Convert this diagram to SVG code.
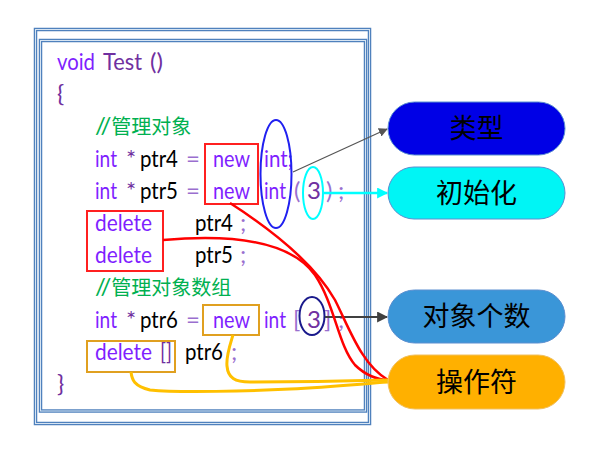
<svg xmlns="http://www.w3.org/2000/svg" width="616" height="450" viewBox="0 0 616 450">
<defs>
<style>
.c{font-family:Lato,"Noto Sans","Noto Sans CJK SC",sans-serif;font-size:24px}
.k{fill:#7F1FFF}
.p{fill:#7030A0}
.l{fill:#9A6FCF}
.b{fill:#000}
.g{fill:#00B050;font-family:Lato,"Noto Sans CJK SC",sans-serif;font-size:24px}
.cj{font-family:"Noto Sans CJK SC",sans-serif;font-size:20px}
.nt{font-family:"Noto Sans CJK SC",sans-serif;font-size:27px;fill:#000;text-anchor:middle}
.fr{fill:none;stroke:#4F81BD;stroke-width:3.5}
.fr2{fill:none;stroke:#D6E4F2;stroke-width:1}
.rb{fill:none;stroke:#FF2020;stroke-width:2}
.ob{fill:none;stroke:#E0A020;stroke-width:2}
.rc{fill:none;stroke:#FF0000;stroke-width:2.5}
.oc{fill:none;stroke:#FFC000;stroke-width:3}
</style>
<marker id="ag" viewBox="0 0 10 10" refX="9" refY="5" markerWidth="9" markerHeight="9" markerUnits="userSpaceOnUse" orient="auto"><path d="M0,0 L10,5 L0,10 z" fill="#555"/></marker>
<marker id="ac" viewBox="0 0 10 10" refX="9" refY="5" markerWidth="11" markerHeight="11" markerUnits="userSpaceOnUse" orient="auto"><path d="M0,0 L10,5 L0,10 z" fill="#00FFFF"/></marker>
<marker id="ad" viewBox="0 0 10 10" refX="9" refY="5" markerWidth="11" markerHeight="11" markerUnits="userSpaceOnUse" orient="auto"><path d="M0,0 L10,5 L0,10 z" fill="#404040"/></marker>
</defs>
<rect width="616" height="450" fill="#fff"/>
<g id="frame">
<rect class="fr" x="35.5" y="29.5" width="334" height="394"/>
<rect class="fr2" x="35.5" y="29.5" width="334" height="394"/>
<rect class="fr" x="40.5" y="40.5" width="325" height="370.5"/>
<rect class="fr2" x="40.5" y="40.5" width="325" height="370.5"/>
</g>
<g id="code" class="c">
<text y="70"><tspan class="k" x="57" textLength="38" lengthAdjust="spacingAndGlyphs">void</tspan><tspan class="p" x="103" textLength="39" lengthAdjust="spacingAndGlyphs">Test</tspan><tspan class="p" x="150" textLength="13" lengthAdjust="spacingAndGlyphs">()</tspan></text>
<text y="102" class="p" x="57">{</text>
<text y="134" class="g" x="95">//<tspan class="cj">管理对象</tspan></text>
<text y="167"><tspan class="k" x="95" textLength="22" lengthAdjust="spacingAndGlyphs">int</tspan><tspan class="p" x="126">*</tspan><tspan class="b" x="140" textLength="38" lengthAdjust="spacingAndGlyphs">ptr4</tspan><tspan class="l" x="186">=</tspan><tspan class="k" x="213" textLength="37" lengthAdjust="spacingAndGlyphs">new</tspan><tspan class="k" x="264" textLength="29" lengthAdjust="spacingAndGlyphs">int;</tspan></text>
<text y="199"><tspan class="k" x="95" textLength="22" lengthAdjust="spacingAndGlyphs">int</tspan><tspan class="p" x="126">*</tspan><tspan class="b" x="140" textLength="38" lengthAdjust="spacingAndGlyphs">ptr5</tspan><tspan class="l" x="186">=</tspan><tspan class="k" x="213" textLength="37" lengthAdjust="spacingAndGlyphs">new</tspan><tspan class="k" x="264" textLength="22" lengthAdjust="spacingAndGlyphs">int</tspan><tspan class="l" x="294">(</tspan><tspan class="p" x="307">3</tspan><tspan class="l" x="326">)</tspan><tspan class="l" x="338">;</tspan></text>
<text y="231"><tspan class="k" x="95" textLength="57" lengthAdjust="spacingAndGlyphs">delete</tspan><tspan class="b" x="195" textLength="38" lengthAdjust="spacingAndGlyphs">ptr4</tspan><tspan class="l" x="240">;</tspan></text>
<text y="263"><tspan class="k" x="95" textLength="57" lengthAdjust="spacingAndGlyphs">delete</tspan><tspan class="b" x="195" textLength="38" lengthAdjust="spacingAndGlyphs">ptr5</tspan><tspan class="l" x="240">;</tspan></text>
<text y="295" class="g" x="95">//<tspan class="cj">管理对象数组</tspan></text>
<text y="328"><tspan class="k" x="95" textLength="22" lengthAdjust="spacingAndGlyphs">int</tspan><tspan class="p" x="126">*</tspan><tspan class="b" x="140" textLength="38" lengthAdjust="spacingAndGlyphs">ptr6</tspan><tspan class="l" x="186">=</tspan><tspan class="k" x="213" textLength="37" lengthAdjust="spacingAndGlyphs">new</tspan><tspan class="k" x="264" textLength="22" lengthAdjust="spacingAndGlyphs">int</tspan><tspan class="l" x="293">[</tspan><tspan class="p" x="307">3</tspan><tspan class="l" x="324">]</tspan><tspan class="l" x="338">;</tspan></text>
<text y="360"><tspan class="k" x="95" textLength="57" lengthAdjust="spacingAndGlyphs">delete</tspan><tspan class="p" x="160" textLength="12" lengthAdjust="spacingAndGlyphs">[]</tspan><tspan class="b" x="185" textLength="38" lengthAdjust="spacingAndGlyphs">ptr6</tspan><tspan class="l" x="231">;</tspan></text>
<text y="392" class="p" x="57">}</text>
</g>
<g id="marks">
<rect class="rb" x="205" y="144" width="53" height="60"/>
<rect class="rb" x="87" y="211" width="76" height="60"/>
<rect class="ob" x="203" y="305" width="56" height="30"/>
<rect class="ob" x="87" y="341" width="88" height="31"/>
<ellipse cx="276" cy="174" rx="15.5" ry="54" fill="none" stroke="#2020F0" stroke-width="2"/>
<ellipse cx="313" cy="193" rx="10" ry="26" fill="none" stroke="#00FFFF" stroke-width="2"/>
<ellipse cx="312" cy="316" rx="12.5" ry="19" fill="none" stroke="#1A1A8C" stroke-width="2"/>
</g>
<g id="connectors">
<line x1="293" y1="172" x2="387" y2="129" stroke="#555" stroke-width="1.2" marker-end="url(#ag)"/>
<line x1="324" y1="193" x2="387" y2="193" stroke="#00FFFF" stroke-width="2.5" marker-end="url(#ac)"/>
<line x1="325" y1="317" x2="387" y2="317" stroke="#404040" stroke-width="2" marker-end="url(#ad)"/>
<path class="rc" d="M230,203 C275,232 315,265 335,300 C350,330 362,365 388,380"/>
<path class="rc" d="M163,240 C230,234 290,240 315,275 C335,305 338,345 355,365 C365,375 378,380 388,380"/>
<path class="oc" d="M233,335 C230,345 226,356 227,366 C228,378 235,382 250,382 C300,382 350,381 388,380"/>
<path class="oc" d="M131,372 C132,380 134,386 150,390 C180,393 250,391 290,389 C330,387 360,384 388,382"/>
</g>
<g id="n-type">
<rect x="388" y="102" width="177" height="53" rx="26.5" fill="#0000E6" stroke="#5B8FD0" stroke-width="1"/>
<text class="nt" x="476.5" y="138">类型</text>
</g>
<g id="n-init">
<rect x="388" y="167" width="177" height="52" rx="26" fill="#00F5F5" stroke="#5B8FD0" stroke-width="1"/>
<text class="nt" x="476.5" y="203">初始化</text>
</g>
<g id="n-count">
<rect x="388" y="290" width="177" height="53" rx="26.5" fill="#3A96D8" stroke="#5B8FD0" stroke-width="1"/>
<text class="nt" x="476.5" y="326">对象个数</text>
</g>
<g id="n-op">
<rect x="388" y="355" width="177" height="54" rx="27" fill="#FFB000" stroke="#F0C060" stroke-width="1"/>
<text class="nt" x="476.5" y="392">操作符</text>
</g>
</svg>
